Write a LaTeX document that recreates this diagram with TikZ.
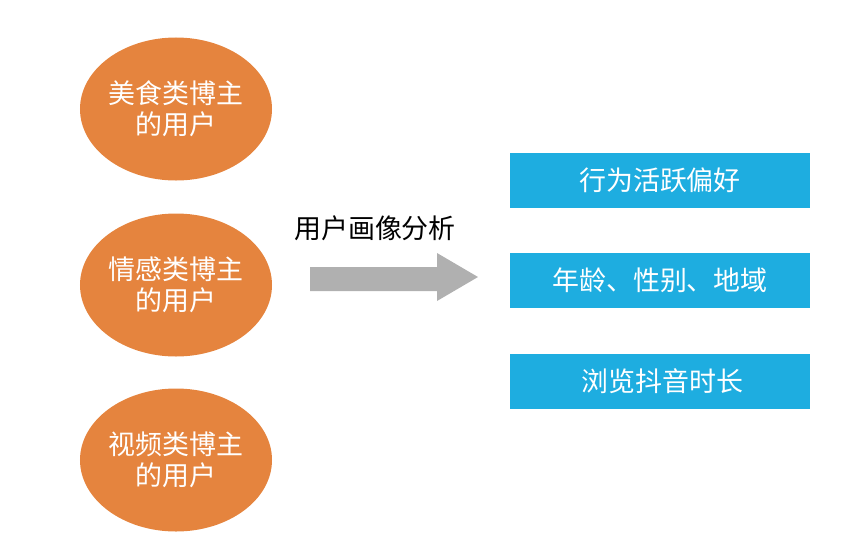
\documentclass[tikz,border=0pt]{standalone}
\usepackage{fontspec}
\setmainfont{Noto Sans CJK SC}
\usetikzlibrary{shapes.geometric}

\definecolor{bloggerorange}{HTML}{E5843E}
\definecolor{tagblue}{HTML}{1EADE0}
\definecolor{arrowgray}{HTML}{B0B0B0}

\begin{document}
\begin{tikzpicture}[x=0.03cm, y=-0.03cm]

\tikzstyle{blogger} = [ellipse, fill=bloggerorange, draw=none, text=white,
  minimum width=5.76cm, minimum height=4.29cm, inner sep=0pt, align=center,
  font=\fontsize{23}{26.5}\selectfont]
\tikzstyle{tag} = [rectangle, fill=tagblue, draw=none, text=white,
  minimum width=9cm, minimum height=1.65cm, inner sep=0pt,
  font=\fontsize{23}{26.5}\selectfont]

\useasboundingbox (0,0) rectangle (868,556);

% users of the three kinds of blogger
\node (food)    [blogger, at={(176,109)}] {美食类博主\\的用户};
\node (emotion) [blogger, at={(176,285)}] {情感类博主\\的用户};
\node (video)   [blogger, at={(176,460)}] {视频类博主\\的用户};

% the portrait arrow
\fill[arrowgray] (310,267) -- (437,267) -- (437,253) -- (478,277)
  -- (437,301) -- (437,291) -- (310,291) -- cycle;
\node (portrait) [at={(375,228)}, anchor=center,
  font=\fontsize{23}{26.5}\selectfont] {用户画像分析};

% what the portrait is made of
\node (active) [tag, at={(660,180)}] {行为活跃偏好};
\node (basic)  [tag, at={(660,280)}] {年龄、性别、地域};
\node (watch)  [tag, at={(660,381)}] {\hspace{0.15cm}浏览抖音时长};

\end{tikzpicture}
\end{document}
